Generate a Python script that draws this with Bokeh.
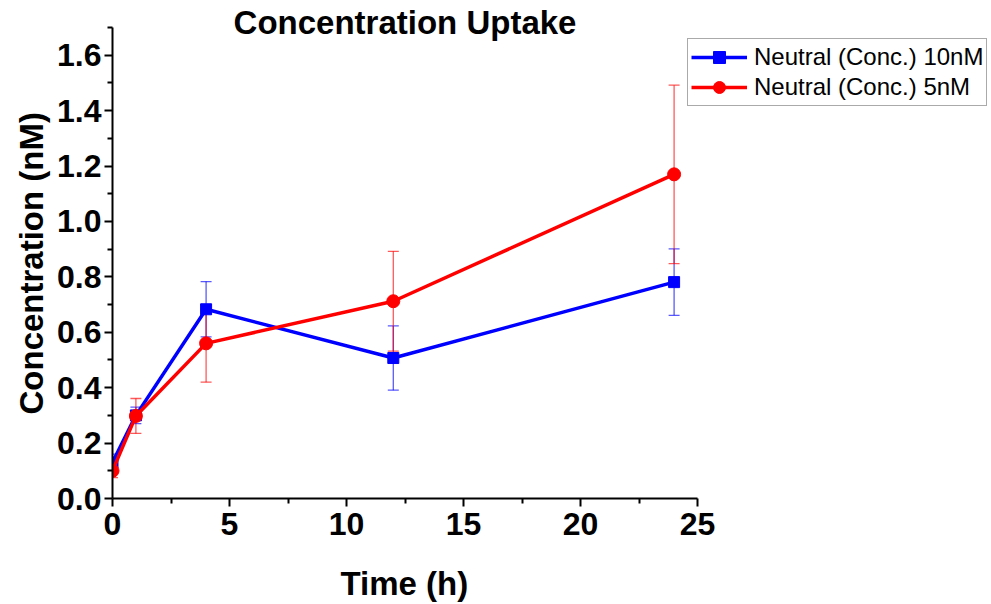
from bokeh.plotting import figure
from bokeh.models import (ColumnDataSource, Whisker, TeeHead, Legend, LegendItem,
                          Label, Range1d, FixedTicker, Title, CustomJSTickFormatter)
from bokeh.embed import file_html
from bokeh.resources import INLINE

# Uptake time course, mean ± error per time point
times = [0, 1, 4, 12, 24]
conc_10nm = [0.13, 0.30, 0.683, 0.507, 0.781]
err_10nm = [0.03, 0.03, 0.10, 0.116, 0.12]
conc_5nm = [0.10, 0.298, 0.56, 0.712, 1.17]
err_5nm = [0.025, 0.063, 0.14, 0.18, 0.322]

label_10nm = "Neutral (Conc.) 10nM"
label_5nm = "Neutral (Conc.) 5nM"

x_ticks = [0, 5, 10, 15, 20, 25]
x_minor = [2.5, 7.5, 12.5, 17.5, 22.5]
y_ticks = [0.0, 0.2, 0.4, 0.6, 0.8, 1.0, 1.2, 1.4, 1.6]
y_minor = [0.1, 0.3, 0.5, 0.7, 0.9, 1.1, 1.3, 1.5, 1.7]

FONT = "Liberation Sans"

# The plotting frame spans the canvas to the right and top edge so that the
# legend and the title can sit in it; the axes themselves stop at 25 h / 1.7 nM.
X_END, Y_END = 25, 1.7
W, H = 991, 604
LEFT, BOTTOM = 112, 106
AX_RIGHT_PX, AX_TOP_PX = 697, 27
x_full = X_END * (W - LEFT) / (AX_RIGHT_PX - LEFT)
y_full = Y_END * (H - BOTTOM) / (H - BOTTOM - AX_TOP_PX)

p = figure(width=W, height=H, output_backend="svg", toolbar_location=None,
           title=None, x_range=Range1d(0, x_full), y_range=Range1d(0, y_full),
           min_border_left=LEFT, min_border_right=0, min_border_top=0,
           min_border_bottom=BOTTOM)
p.grid.visible = False
p.outline_line_color = None
p.background_fill_color = "white"
p.border_fill_color = "white"


def make_source(y, e):
    return ColumnDataSource(dict(x=times, y=y,
                                 lo=[a - b for a, b in zip(y, e)],
                                 hi=[a + b for a, b in zip(y, e)]))


src10 = make_source(conc_10nm, err_10nm)
src5 = make_source(conc_5nm, err_5nm)

items = []
for src, color, marker, size, name in [
        (src10, "#0000FF", "square", 11, label_10nm),
        (src5, "#FF0000", "circle", 13, label_5nm)]:
    head = dict(size=11, line_color=color, line_alpha=0.65, line_width=1.3)
    w = Whisker(source=src, base="x", upper="hi", lower="lo",
                line_color=color, line_alpha=0.65, line_width=1.3,
                upper_head=TeeHead(**head), lower_head=TeeHead(**head))
    p.add_layout(w)
    ln = p.line("x", "y", source=src, line_color=color, line_width=3.5)
    sc = p.scatter("x", "y", source=src, marker=marker, size=size,
                   fill_color=color, line_color=color)
    items.append(LegendItem(label=name, renderers=[ln, sc]))

legend = Legend(items=items, location=(575, 392), orientation="vertical",
                label_text_font=FONT, label_text_font_size="24px",
                label_text_color="black", glyph_width=56, glyph_height=30,
                label_height=30, label_standoff=7, spacing=0, padding=3,
                margin=0, border_line_color="#555555", border_line_width=1.2,
                background_fill_color="white", background_fill_alpha=1.0)
p.add_layout(legend, "center")

for ax in (p.xaxis[0], p.yaxis[0]):
    ax.axis_line_width = 2
    ax.axis_line_color = "black"
    ax.major_tick_line_width = 2
    ax.minor_tick_line_width = 2
    ax.major_tick_in = 0
    ax.major_tick_out = 8
    ax.minor_tick_in = 0
    ax.minor_tick_out = 5
    ax.major_label_text_font = FONT
    ax.major_label_text_font_style = "bold"
    ax.major_label_text_font_size = "32px"
    ax.major_label_text_color = "black"

p.xaxis[0].bounds = (0, X_END)
p.yaxis[0].bounds = (0, Y_END)
p.xaxis[0].ticker = FixedTicker(ticks=x_ticks, minor_ticks=x_minor)
p.yaxis[0].ticker = FixedTicker(ticks=y_ticks, minor_ticks=y_minor)
p.yaxis[0].formatter = CustomJSTickFormatter(code="return tick.toFixed(1);")
p.xaxis[0].major_label_standoff = 6
p.yaxis[0].major_label_standoff = 3

# keep a gap between the x tick labels and the x axis title
p.xaxis[0].axis_label = " "
p.xaxis[0].axis_label_text_font_size = "1px"
p.xaxis[0].axis_label_standoff = 22

# Axis titles, anchored along the 0..25 / 0..1.7 axis extents
p.add_layout(Title(text="Time (h)", align="left", offset=228, vertical_align="top",
                   standoff=2, text_font=FONT, text_font_style="bold",
                   text_font_size="33px", text_color="black"), "below")
p.add_layout(Title(text="Concentration (nM)", align="left", offset=84,
                   vertical_align="bottom", standoff=10, text_font=FONT,
                   text_font_style="bold", text_font_size="33px",
                   text_color="black"), "left")

# Chart heading, centred over the axis extent
p.add_layout(Label(x=(AX_RIGHT_PX - LEFT) / 2, y=H - BOTTOM - 22,
                   x_units="screen", y_units="screen",
                   text="Concentration Uptake", text_align="center",
                   text_baseline="alphabetic", text_font=FONT,
                   text_font_style="bold", text_font_size="33px",
                   text_color="black"))

open("out.html", "w").write(file_html(p, INLINE))
